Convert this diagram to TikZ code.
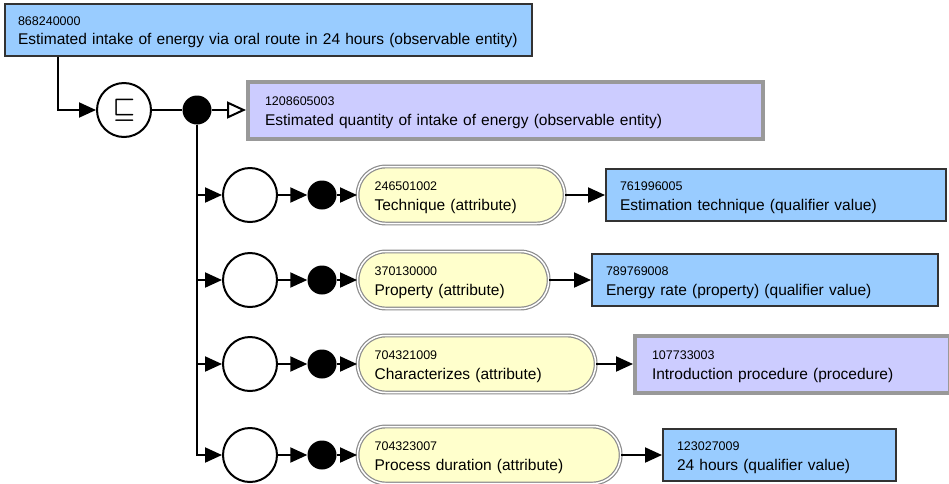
\documentclass[tikz,border=0pt]{standalone}
\usepackage{fontspec}
\setmainfont{Liberation Sans}
\usetikzlibrary{arrows.meta}

\definecolor{primblue}{HTML}{99CCFF}
\definecolor{deflav}{HTML}{CCCCFF}
\definecolor{attryellow}{HTML}{FFFFCC}
\definecolor{boxedge}{HTML}{333333}
\definecolor{defedge}{HTML}{999999}
\definecolor{attredge}{HTML}{8C8C8C}

% concept label: small identifier line above the descriptive name;
% the struts keep both baselines at fixed offsets from the box centre
\newcommand\idtxt[1]{\mbox{\rule{0pt}{15pt}\fontsize{12.5}{14}\selectfont #1}}
\newcommand\cpt[2]{\idtxt{#1}\\\mbox{\rule[-4pt]{0pt}{4pt}#2}}

\begin{document}
\begin{tikzpicture}[x=1pt,y=-1pt,
  box/.style={rectangle, anchor=west, align=left, inner ysep=0pt,
    font=\fontsize{15.5}{19.5}\selectfont},
  primbox/.style={box, draw=boxedge, line width=2pt, fill=primblue,
    minimum height=52pt, inner xsep=14pt},
  defbox/.style={box, draw=defedge, line width=4pt, fill=deflav,
    minimum height=57pt, inner xsep=17pt},
  attrbox/.style={box, rounded corners=28pt, draw=attredge, double=white,
    double distance=1.5pt, line width=1.2pt, fill=attryellow,
    minimum height=57pt, inner xsep=17pt},
  ring/.style={circle, draw=black, line width=2pt, fill=white,
    minimum size=54pt, inner sep=0pt},
  joint/.style={circle, fill=black, minimum size=29pt, inner sep=0pt},
  conn/.style={line width=2pt},
  arr/.style={conn, -{Triangle[length=17pt,width=15pt]}},
  openarr/.style={conn, -{Triangle[open,length=19pt,width=17pt,fill=white]}}
]
\useasboundingbox (0,0) rectangle (949,483);

% defined concept and its definition status
\node[primbox, inner xsep=13pt, minimum width=527pt, text width=501pt] (top) at (4,29.7)
  {\cpt{868240000}{Estimated intake of energy via oral route in 24 hours (observable entity)}};
\node[ring, font=\fontsize{27}{27}\selectfont\boldmath] (sub) at (124,110) {$\sqsubseteq$};
\node[joint] (hub) at (197,110) {};
\node[defbox, minimum width=515pt, text width=481pt] (defn) at (246,110)
  {\cpt{1208605003}{Estimated quantity of intake of energy (observable entity)}};

% attribute groups
\foreach \i/\y in {1/195, 2/280, 3/364, 4/455}{
  \node[ring] (c\i) at (250,\y) {};
  \node[joint] (d\i) at (322,\y) {};
}

\node[attrbox, minimum width=207pt, text width=173pt] (y1) at (357,195)
  {\cpt{246501002}{Technique (attribute)}};
\node[attrbox, minimum width=191pt, text width=157pt] (y2) at (357,280)
  {\cpt{370130000}{Property (attribute)}};
\node[attrbox, minimum width=238pt, text width=204pt] (y3) at (357,364)
  {\cpt{704321009}{Characterizes (attribute)}};
\node[attrbox, minimum width=263pt, text width=229pt] (y4) at (357,455)
  {\cpt{704323007}{Process duration (attribute)}};

% attribute values
\node[primbox, minimum width=340pt, text width=312pt] (v1) at (605,195)
  {\cpt{761996005}{Estimation technique (qualifier value)}};
\node[primbox, minimum width=346pt, text width=318pt] (v2) at (591,280)
  {\cpt{789769008}{Energy rate (property) (qualifier value)}};
\node[defbox, minimum width=315pt, text width=281pt] (v3) at (633,364)
  {\cpt{107733003}{Introduction procedure (procedure)}};
\node[primbox, minimum width=233pt, text width=205pt] (v4) at (662,455)
  {\cpt{123027009}{24 hours (qualifier value)}};

% connectors
\coordinate (drop) at (58,0);
\draw[arr] (top.south -| drop) |- (sub);
\draw[conn] (sub) -- (hub);
\draw[openarr] (hub) -- (defn);
\foreach \i in {1,2,3,4}{
  \draw[arr] (hub) |- (c\i);
  \draw[arr] (c\i) -- (d\i);
  \draw[arr] (d\i) -- (y\i);
  \draw[arr] (y\i) -- (v\i);
}
\end{tikzpicture}
\end{document}
